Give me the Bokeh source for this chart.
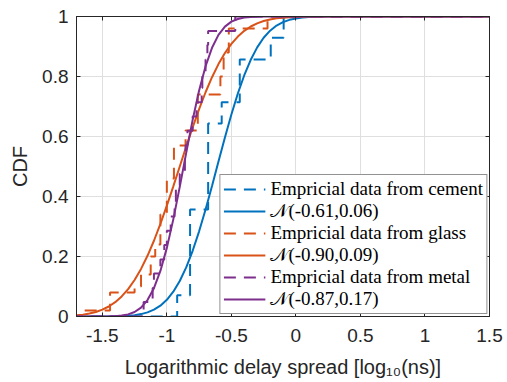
from bokeh.plotting import figure
from bokeh.models import Range1d, FixedTicker, LinearAxis, Legend, LegendItem
from bokeh.embed import file_html
from bokeh.resources import INLINE

# ---------------- data ----------------
x_ticks = [-1.5, -1.0, -0.5, 0.0, 0.5, 1.0, 1.5]
x_tick_labels = ["-1.5", "-1", "-0.5", "0", "0.5", "1", "1.5"]
y_ticks = [0.0, 0.2, 0.4, 0.6, 0.8, 1.0]
y_tick_labels = ["0", "0.2", "0.4", "0.6", "0.8", "1"]

# empirical CDFs: step positions and CDF level after each step
cement_x = [-0.92, -0.82, -0.68, -0.575, -0.435, -0.195, -0.095]
cement_y = [0.071, 0.357, 0.643, 0.714, 0.857, 0.929, 1.0]

glass_x = [-1.80, -1.44, -1.25, -1.20, -1.125, -1.09, -1.05, -1.00, -0.945,
           -0.855, -0.76, -0.585, -0.56, -0.52, -0.22]
glass_y = [0.02, 0.08, 0.10, 0.14, 0.20, 0.24, 0.34, 0.46, 0.57,
           0.62, 0.74, 0.80, 0.88, 0.96, 1.0]

metal_x = [-1.18, -1.11, -1.10, -1.05, -1.02, -1.00, -0.97, -0.94, -0.93, -0.90,
           -0.86, -0.855, -0.84, -0.80, -0.77, -0.73, -0.725, -0.70, -0.686,
           -0.68, -0.47]
metal_y = [0.048, 0.095, 0.143, 0.190, 0.238, 0.286, 0.333, 0.381, 0.429, 0.476,
           0.524, 0.571, 0.619, 0.667, 0.714, 0.762, 0.810, 0.857, 0.905,
           0.952, 1.0]

# fitted normal CDF curves
fit_x = [-1.70, -1.65, -1.60, -1.55, -1.50, -1.45, -1.40, -1.35, -1.30, -1.25,
         -1.20, -1.15, -1.10, -1.05, -1.00, -0.95, -0.90, -0.85, -0.80, -0.75,
         -0.70, -0.65, -0.60, -0.55, -0.50, -0.45, -0.40, -0.35, -0.30, -0.25,
         -0.20, -0.15, -0.10, -0.05, 0.00, 0.05, 0.10, 0.15, 0.20, 0.25,
         0.30, 0.35, 0.40, 1.50]
cement_fit = [0.0000, 0.0000, 0.0000, 0.0001, 0.0001, 0.0003, 0.0006, 0.0013, 0.0024, 0.0045,
              0.0080, 0.0138, 0.0228, 0.0362, 0.0557, 0.0826, 0.1182, 0.1636, 0.2190, 0.2839,
              0.3568, 0.4352, 0.5163, 0.5967, 0.6733, 0.7432, 0.8043, 0.8557, 0.8971, 0.9291,
              0.9528, 0.9698, 0.9813, 0.9889, 0.9936, 0.9965, 0.9981, 0.9990, 0.9995, 0.9998,
              0.9999, 0.9999, 1.0000, 1.0000]
glass_fit = [0.0038, 0.0062, 0.0098, 0.0151, 0.0228, 0.0334, 0.0478, 0.0668, 0.0912, 0.1217,
             0.1587, 0.2023, 0.2525, 0.3085, 0.3694, 0.4338, 0.5000, 0.5662, 0.6306, 0.6915,
             0.7475, 0.7977, 0.8413, 0.8783, 0.9088, 0.9332, 0.9522, 0.9666, 0.9772, 0.9849,
             0.9902, 0.9938, 0.9962, 0.9977, 0.9987, 0.9992, 0.9996, 0.9998, 0.9999, 0.9999,
             1.0000, 1.0000, 1.0000, 1.0000]
metal_fit = [0.0000, 0.0000, 0.0000, 0.0001, 0.0002, 0.0005, 0.0012, 0.0030, 0.0070, 0.0150,
             0.0297, 0.0548, 0.0944, 0.1518, 0.2288, 0.3238, 0.4320, 0.5454, 0.6554, 0.7536,
             0.8343, 0.8956, 0.9386, 0.9663, 0.9828, 0.9918, 0.9964, 0.9985, 0.9994, 0.9998,
             0.9999, 1.0000, 1.0000, 1.0000, 1.0000, 1.0000, 1.0000, 1.0000, 1.0000, 1.0000,
             1.0000, 1.0000, 1.0000, 1.0000]

labels = ["Empricial data from cement", "\U0001D4A9(-0.61,0.06)",
          "Empricial data from glass", "\U0001D4A9(-0.90,0.09)",
          "Empricial data from metal", "\U0001D4A9(-0.87,0.17)"]

X_MIN, X_MAX = -1.7, 1.5
BLUE, ORANGE, PURPLE = "#0072BD", "#D95319", "#7E2F8E"
AXC = "#262626"

p = figure(width=507, height=382, x_range=Range1d(X_MIN, X_MAX), y_range=Range1d(0, 1),
           output_backend="svg", toolbar_location=None,
           min_border_left=76, min_border_right=18, min_border_top=16, min_border_bottom=66)
p.background_fill_color = "white"
p.outline_line_color = AXC
p.outline_line_width = 1

for ax, ticks, tl in ((p.xaxis[0], x_ticks, x_tick_labels), (p.yaxis[0], y_ticks, y_tick_labels)):
    ax.ticker = FixedTicker(ticks=ticks)
    ax.major_label_overrides = {t: s for t, s in zip(ticks, tl)}
    ax.major_tick_in = 4
    ax.major_tick_out = 0
    ax.minor_tick_line_color = None
    ax.axis_line_color = AXC
    ax.major_tick_line_color = AXC
    ax.major_label_text_color = AXC
    ax.major_label_text_font = "Liberation Sans"
    ax.major_label_text_font_size = "19px"
    ax.axis_label_text_font = "Liberation Sans"
    ax.axis_label_text_font_size = "20px"
    ax.axis_label_text_font_style = "normal"
    ax.axis_label_text_color = AXC

p.xaxis.major_label_standoff = 12
p.yaxis.major_label_standoff = 8
p.xaxis.axis_label = "Logarithmic delay spread [log\u2081\u2080(ns)]"
p.yaxis.axis_label = "CDF"
p.xaxis.axis_label_standoff = 11
p.yaxis.axis_label_standoff = 8

# mirrored ticks on top and right (box on)
for loc, ticks in (("right", y_ticks), ("above", x_ticks)):
    a = LinearAxis(ticker=FixedTicker(ticks=ticks),
                   major_label_overrides={t: "" for t in ticks},
                   major_label_text_font_size="1px", major_label_standoff=0,
                   major_tick_in=4, major_tick_out=0, minor_tick_line_color=None,
                   axis_line_color=AXC, major_tick_line_color=AXC)
    p.add_layout(a, loc)

p.xgrid.ticker = FixedTicker(ticks=x_ticks)
p.ygrid.ticker = FixedTicker(ticks=y_ticks)
p.grid.grid_line_color = "#dfdfdf"
p.grid.grid_line_width = 1


def ecdf_path(xs, ys):
    return [X_MIN - 0.2] + xs + [X_MAX + 0.2], [0.0] + ys + [1.0]


renderers = []
for (ex, ey, fy, col) in ((cement_x, cement_y, cement_fit, BLUE),
                          (glass_x, glass_y, glass_fit, ORANGE),
                          (metal_x, metal_y, metal_fit, PURPLE)):
    sx, sy = ecdf_path(ex, ey)
    r1 = p.step(sx, sy, mode="after", line_color=col, line_width=2, line_dash="12 8")
    r2 = p.line(fit_x, fy, line_color=col, line_width=2)
    renderers += [r1, r2]

legend = Legend(items=[LegendItem(label=l, renderers=[r]) for l, r in zip(labels, renderers)],
                location="bottom_right")
legend.margin = 2
legend.padding = 3
legend.spacing = 0
legend.glyph_width = 42
legend.glyph_height = 20
legend.label_height = 20
legend.label_standoff = 5
legend.label_text_font = "Liberation Serif"
legend.label_text_font_size = "19px"
legend.label_text_color = "black"
legend.border_line_color = AXC
legend.border_line_width = 1
legend.background_fill_alpha = 1.0
p.add_layout(legend, "center")

open("out.html", "w").write(file_html(p, INLINE))
